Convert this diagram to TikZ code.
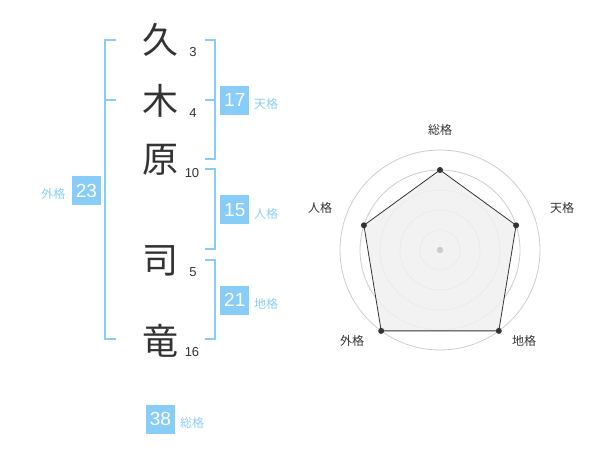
\documentclass[tikz,border=0pt]{standalone}
\usepackage{fontspec}
\setmainfont{Liberation Sans}
\newfontfamily\jp{Noto Sans CJK JP}
\definecolor{sky}{RGB}{136,204,248}
\definecolor{skytext}{RGB}{140,205,245}
\definecolor{ink}{RGB}{51,51,51}
\definecolor{ring}{RGB}{204,204,204}
\definecolor{area}{RGB}{240,240,240}
\begin{document}
\begin{tikzpicture}[x=1pt,y=-1pt,
  kanji/.style={font=\jp\fontsize{36}{36}\selectfont, text=ink, inner sep=0pt},
  stroke/.style={font=\fontsize{13}{13}\selectfont, text=ink, inner sep=0pt},
  scorebox/.style={fill=sky, text=white, minimum size=29pt, inner sep=0pt, font=\fontsize{19}{19}\selectfont},
  scorelabel/.style={font=\jp\fontsize{12}{12}\selectfont, text=skytext, inner sep=0pt},
  bracket/.style={draw=sky, line width=2pt},
  axislabel/.style={font=\jp\fontsize{12}{12}\selectfont, text=ink, inner sep=0pt},
  ringline/.style={draw=ring, line width=0.8pt},
  vertex/.style={circle, fill=ink, minimum size=6pt, inner sep=0pt}]
\useasboundingbox (0,0) rectangle (600,470);
% characters
\node[kanji] (c1) at (160,40) {久};
\node[kanji] (c2) at (160,101) {木};
\node[kanji] (c3) at (160,160) {原};
\node[kanji] (c4) at (160,261) {司};
\node[kanji] (c5) at (160,341) {竜};
\node[stroke] (n1) at (193,52) {3};
\node[stroke] (n2) at (193,113) {4};
\node[stroke] (n3) at (192,173) {10};
\node[stroke] (n4) at (193,272) {5};
\node[stroke] (n5) at (192,352.5) {16};
% brackets
\draw[bracket] (116,40) -- (105,40) -- (105,339.5) -- (116,339.5);
\draw[bracket] (105,100) -- (116,100);
\draw[bracket] (205,40) -- (214.5,40) -- (214.5,159.5) -- (205,159.5);
\draw[bracket] (205,100) -- (214.5,100);
\draw[bracket] (205,169.5) -- (214.5,169.5) -- (214.5,249.5) -- (205,249.5);
\draw[bracket] (205,260) -- (214.5,260) -- (214.5,339.5) -- (205,339.5);
% score boxes
\node[scorebox] (b1) at (234.8,100.3) {17};
\node[scorelabel] (l1) at (266,104) {天格};
\node[scorebox] (b2) at (234.8,210) {15};
\node[scorebox] (b3) at (234.8,300.3) {21};
\node[scorelabel] (l2) at (266,213.5) {人格};
\node[scorelabel] (l3) at (266,303.5) {地格};
\node[scorebox] (b4) at (86.5,190.8) {23};
\node[scorelabel] (l4) at (53.5,193.5) {外格};
\node[scorebox] (b5) at (160.5,419) {38};
\node[scorelabel] (l5) at (192,422.5) {総格};
% radar
\coordinate (ctr) at (440,250);
\foreach \r in {20,40,60,80,100} \draw[ringline] (ctr) circle[radius=\r];
\coordinate (pS) at (440,170);
\coordinate (pT) at (516.1,225.3);
\coordinate (pC) at (498.8,330.9);
\coordinate (pG) at (381.2,330.9);
\coordinate (pJ) at (363.9,225.3);
\filldraw[fill=area, fill opacity=0.85, draw=ink, line width=0.8pt] (pS) -- (pT) -- (pC) -- (pG) -- (pJ) -- cycle;
\fill[ring] (ctr) circle[radius=3.2];
\foreach \p in {pS,pT,pC,pG,pJ} \node[vertex] at (\p) {};
\node[axislabel] (aS) at (440,130) {総格};
\node[axislabel] (aT) at (562,208) {天格};
\node[axislabel] (aC) at (524,341) {地格};
\node[axislabel] (aG) at (352,341) {外格};
\node[axislabel] (aJ) at (320,208) {人格};
\end{tikzpicture}
\end{document}
